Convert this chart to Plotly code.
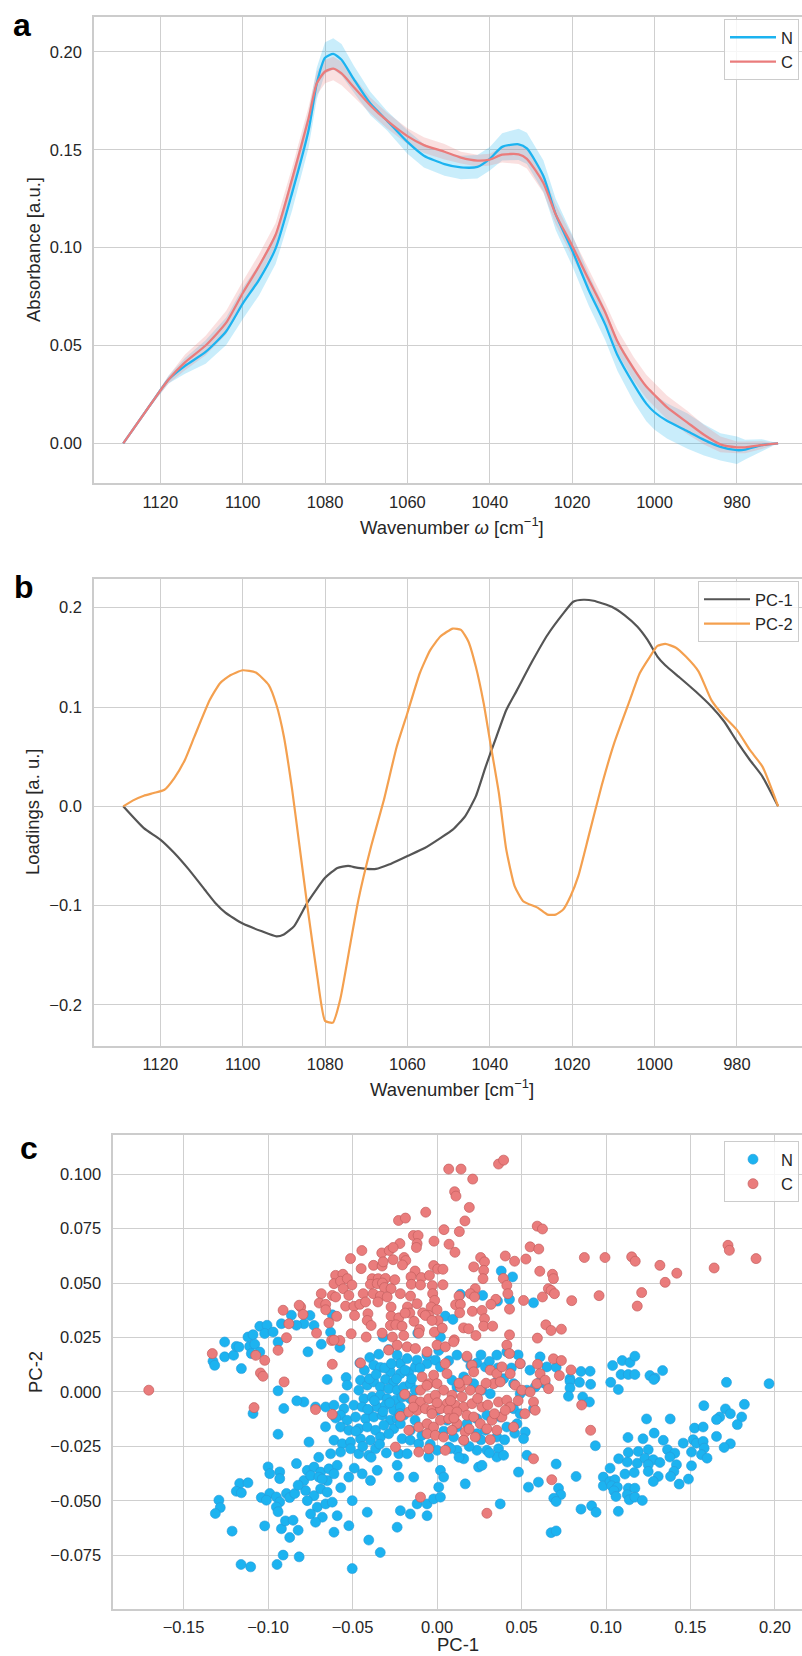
import plotly.graph_objects as go

# ---------------- Panel a: mean absorbance spectra with spread ----------------
WN_A = [1129, 1122, 1118, 1114, 1109, 1104, 1100, 1096, 1092, 1088, 1084, 1082, 1080, 1078,
        1076, 1073, 1069, 1065, 1060, 1056, 1051, 1047, 1043, 1040, 1037, 1033, 1031, 1027,
        1024, 1020, 1016, 1012, 1009, 1005, 1002, 1000, 997, 992, 988, 984, 980, 978, 974, 970]
N_MEAN = [0, 0.021, 0.0326, 0.0396, 0.0467, 0.0573, 0.0714, 0.0837, 0.0996, 0.128, 0.160, 0.184,
          0.197, 0.199, 0.196, 0.186, 0.1736, 0.165, 0.154, 0.147, 0.1427, 0.141, 0.1413, 0.1454,
          0.1515, 0.1528, 0.1507, 0.1366, 0.117, 0.0987, 0.0784, 0.0608, 0.045, 0.030, 0.0203,
          0.0159, 0.0115, 0.0062, 0.0018, -0.0018, -0.0035, -0.0032, -0.0009, 0]
N_SD = [0, 0.001, 0.002, 0.004, 0.006, 0.007, 0.008, 0.008, 0.008, 0.009, 0.009, 0.008, 0.008,
        0.008, 0.008, 0.007, 0.006, 0.005, 0.006, 0.006, 0.006, 0.006, 0.006, 0.006, 0.007, 0.008,
        0.008, 0.008, 0.008, 0.008, 0.008, 0.008, 0.008, 0.009, 0.009, 0.009, 0.009, 0.009, 0.008,
        0.007, 0.007, 0.005, 0.003, 0]
C_MEAN = [0, 0.021, 0.0326, 0.0414, 0.050, 0.0617, 0.0767, 0.0907, 0.1066, 0.135, 0.166, 0.184,
          0.190, 0.1915, 0.189, 0.182, 0.1727, 0.165, 0.157, 0.1524, 0.149, 0.146, 0.1445, 0.145,
          0.1475, 0.1477, 0.1454, 0.133, 0.117, 0.101, 0.0837, 0.067, 0.052, 0.0379, 0.029, 0.0247,
          0.0185, 0.0106, 0.0044, -0.0005, -0.002, -0.002, -0.0009, 0]
C_SD = [0, 0.001, 0.002, 0.004, 0.005, 0.006, 0.006, 0.006, 0.006, 0.006, 0.006, 0.006, 0.006,
        0.006, 0.006, 0.005, 0.004, 0.004, 0.004, 0.004, 0.004, 0.003, 0.003, 0.003, 0.004, 0.005,
        0.005, 0.005, 0.005, 0.005, 0.005, 0.005, 0.006, 0.006, 0.006, 0.006, 0.006, 0.006, 0.005,
        0.004, 0.003, 0.003, 0.002, 0]

# ---------------- Panel b: PCA loadings ----------------
PC1_WN = [1129, 1124, 1120, 1116.6, 1113, 1109.2, 1106.7, 1104.2, 1100, 1095.5, 1091.8, 1090,
          1087.5, 1084.3, 1080, 1077, 1074.4, 1072, 1067.6, 1064.5, 1060, 1055.8, 1052, 1049, 1046,
          1043.4, 1041, 1038.4, 1036, 1033.4, 1029.7, 1026, 1022.2, 1019.75, 1017.3, 1014.8,
          1010.4, 1007.3, 1004.2, 1001.7, 999.3, 997.4, 993.7, 990, 986.2, 983.1, 980, 976.9,
          973.8, 970]
PC1_LOAD = [0, -0.022, -0.0335, -0.047, -0.064, -0.084, -0.097, -0.107, -0.118, -0.1256, -0.131,
            -0.129, -0.1206, -0.097, -0.072, -0.062, -0.060, -0.062, -0.063, -0.0586, -0.050,
            -0.042, -0.032, -0.0235, -0.010, 0.010, 0.040, 0.070, 0.097, 0.117, 0.146, 0.1725,
            0.194, 0.206, 0.208, 0.207, 0.201, 0.1926, 0.181, 0.1675, 0.1508, 0.142, 0.129,
            0.1156, 0.1005, 0.0854, 0.0653, 0.0469, 0.030, 0]
PC2_WN = [1129, 1126.6, 1124, 1121.6, 1119, 1116.6, 1114, 1111.7, 1108, 1105.5, 1103, 1100,
          1096.8, 1093.7, 1091.8, 1090, 1088, 1086.2, 1084.3, 1081.9, 1080, 1078.1, 1076.3,
          1073.8, 1071.9, 1068.8, 1065.7, 1062.6, 1060, 1057, 1054.5, 1052, 1049, 1047, 1045.2,
          1043.4, 1041.5, 1040, 1037.8, 1036, 1034, 1031.9, 1028.4, 1026, 1024, 1022.2, 1020.4,
          1018.5, 1016, 1012.9, 1009.8, 1006, 1003.6, 1001.1, 999.3, 997.4, 994.9, 992.4, 989.3,
          986.2, 983.1, 980, 976.9, 973.8, 970]
PC2_LOAD = [0, 0.006, 0.0107, 0.0134, 0.0167, 0.0285, 0.047, 0.0704, 0.107, 0.124, 0.132, 0.137,
            0.1347, 0.1223, 0.102, 0.0704, 0.017, -0.040, -0.1005, -0.171, -0.216, -0.2178,
            -0.194, -0.137, -0.094, -0.040, 0.0067, 0.060, 0.094, 0.134, 0.157, 0.171, 0.179,
            0.1776, 0.166, 0.1407, 0.104, 0.067, 0.0134, -0.0436, -0.080, -0.0955, -0.102,
            -0.109, -0.109, -0.104, -0.0905, -0.070, -0.030, 0.020, 0.0637, 0.107, 0.134, 0.1508,
            0.1615, 0.1635, 0.160, 0.1508, 0.1357, 0.107, 0.0905, 0.077, 0.057, 0.040, 0]

# ---------------- Panel c: PCA scores (PC-1, PC-2) ----------------
N_SCORES = [
    (0.0380, 0.0555), (0.0447, 0.0528), (0.0138, 0.0448), (0.0270, 0.0443), (0.0358, 0.0417),
    (0.0429, 0.0425), (0.0571, 0.0409), (0.0049, 0.0348), (0.0094, 0.0333), (-0.0788, 0.0313),
    (-0.0752, 0.0351), (-0.0728, 0.0305), (-0.0620, 0.0354), (-0.0630, 0.0274), (-0.0319, 0.0252),
    (-0.0114, 0.0270), (0.0020, 0.0252),
    (-0.0764, 0.0184), (-0.0685, 0.0219), (-0.0575, 0.0204), (-0.0650, 0.0057), (-0.0538, 0.0066),
    (-0.0532, 0.0031), (-0.0457, 0.0133), (-0.0398, 0.0158), (-0.0345, 0.0173), (-0.0374, 0.0123),
    (-0.0335, 0.0112), (-0.0286, 0.0195), (-0.0236, 0.0169), (-0.0217, 0.0130), (-0.0177, 0.0153),
    (-0.0276, 0.0092), (-0.0305, 0.0057), (-0.0256, 0.0046), (-0.0217, 0.0084), (-0.0167, 0.0092),
    (-0.0128, 0.0115), (-0.0118, 0.0146), (-0.0059, 0.0130), (-0.0010, 0.0146), (0.0020, 0.0115),
    (0.0069, 0.0143), (0.0118, 0.0169), (0.0177, 0.0158), (0.0236, 0.0133), (0.0286, 0.0115),
    (0.0354, 0.0169), (0.0413, 0.0184), (0.0492, 0.0130), (0.0610, 0.0161), (0.0650, 0.0115),
    (-0.0453, 0.0054), (-0.0413, 0.0031), (-0.0374, 0.0046), (-0.0335, 0.0023), (-0.0286, 0.0015),
    (-0.0236, 0.0008), (-0.0197, 0.0023), (-0.0158, 0.0038), (-0.0128, 0.0008), (-0.0463, 0.0008),
    (-0.0433, -0.0031), (-0.0384, -0.0023), (-0.0335, -0.0015), (-0.0295, -0.0031),
    (-0.0246, -0.0038), (-0.0207, -0.0023), (-0.0158, -0.0031), (0.0089, 0.0054), (0.0118, 0.0023),
    (0.0158, 0.0069), (0.0217, 0.0038), (0.0266, 0.0008), (0.0315, -0.0008), (0.0354, 0.0046),
    (0.0394, 0.0061), (0.0453, 0.0038), (0.0492, -0.0008), (0.0532, 0.0008), (0.0581, 0.0023),
    (0.0640, 0.0038), (-0.0719, -0.0069), (-0.0659, -0.0069), (-0.0610, -0.0061),
    (-0.0551, -0.0077), (-0.0492, -0.0061), (-0.0443, -0.0069), (-0.0404, -0.0084),
    (-0.0354, -0.0069), (-0.0305, -0.0061), (-0.0256, -0.0084), (-0.0217, -0.0069),
    (-0.0788, -0.0046), (-0.0571, -0.0107), (-0.0532, -0.0130), (-0.0482, -0.0115),
    (-0.0423, -0.0123), (-0.0374, -0.0115), (-0.0325, -0.0107), (-0.0276, -0.0130),
    (-0.0236, -0.0123), (-0.0197, -0.0107), (0.0000, -0.0084), (0.0059, -0.0130), (0.0118, -0.0161),
    (0.0177, -0.0146), (0.0236, -0.0123), (0.0295, -0.0107), (0.0374, -0.0115), (0.0453, -0.0077),
    (0.0492, -0.0100), (0.0571, -0.0077), (-0.0571, -0.0161), (-0.0522, -0.0176),
    (-0.0463, -0.0169), (-0.0413, -0.0161), (-0.0364, -0.0176), (-0.0315, -0.0153),
    (-0.0256, -0.0169), (-0.0217, -0.0146), (-0.0158, -0.0176), (0.0098, -0.0207),
    (0.0158, -0.0222), (0.0236, -0.0192), (0.0286, -0.0176), (0.0354, -0.0207), (0.0413, -0.0161),
    (0.0473, -0.0146), (0.0522, -0.0184), (0.0512, -0.0215), (-0.0610, -0.0222),
    (-0.0561, -0.0238), (-0.0512, -0.0230), (-0.0453, -0.0215), (-0.0394, -0.0222),
    (-0.0335, -0.0207), (-0.0286, -0.0192), (-0.0207, -0.0215), (-0.0158, -0.0222),
    (-0.0108, -0.0238), (-0.0630, -0.0284), (-0.0571, -0.0276), (-0.0512, -0.0261),
    (-0.0463, -0.0284), (-0.0404, -0.0291), (-0.0364, -0.0261), (-0.0226, -0.0284),
    (-0.0177, -0.0284), (-0.0049, -0.0299), (0.0000, -0.0268), (0.0069, -0.0253), (0.0118, -0.0268),
    (0.0158, -0.0307), (0.0236, -0.0268), (0.0295, -0.0268), (0.0364, -0.0261), (0.0354, -0.0299),
    (0.0394, -0.0291), (-0.0758, -0.0230), (0.0532, -0.0291), (-0.0768, -0.0360),
    (-0.0728, -0.0345), (-0.0689, -0.0368), (-0.0640, -0.0353), (-0.0591, -0.0337),
    (-0.0788, -0.0407), (-0.0748, -0.0384), (-0.0699, -0.0391), (-0.0650, -0.0407),
    (-0.0610, -0.0376), (-0.0522, -0.0391), (-0.0443, -0.0376), (-0.0394, -0.0407),
    (-0.0354, -0.0360), (-0.0236, -0.0337), (-0.0226, -0.0391), (-0.0138, -0.0391),
    (0.0020, -0.0360), (0.0039, -0.0391), (0.0010, -0.0437), (0.0167, -0.0422), (0.0246, -0.0345),
    (0.0266, -0.0337), (0.0482, -0.0368), (0.0541, -0.0437), (0.0600, -0.0414), (-0.0778, -0.0453),
    (-0.0728, -0.0476), (-0.0689, -0.0445), (-0.0650, -0.0460), (-0.0768, -0.0499),
    (-0.0709, -0.0529), (-0.0659, -0.0514), (-0.0620, -0.0506), (-0.0502, -0.0499),
    (-0.0748, -0.0560), (-0.0679, -0.0575), (-0.0591, -0.0568), (-0.0522, -0.0614),
    (-0.0413, -0.0552), (-0.0217, -0.0545), (-0.0158, -0.0560), (-0.0118, -0.0514),
    (-0.0059, -0.0514), (-0.0059, -0.0568), (-0.0020, -0.0491), (0.0020, -0.0483),
    (0.0374, -0.0514), (-0.0719, -0.0598), (-0.0610, -0.0644), (-0.0236, -0.0621),
    (-0.0404, -0.0680), (-0.0502, -0.0811), (-0.0336, -0.0737),
    (-0.043, 0.010), (-0.040, 0.006), (-0.036, 0.008), (-0.031, 0.011), (-0.027, 0.013),
    (-0.024, 0.006), (-0.019, 0.010), (-0.015, 0.006), (-0.041, -0.008), (-0.037, -0.004),
    (-0.032, -0.009), (-0.028, -0.005), (-0.022, -0.010), (-0.018, -0.002), (-0.013, -0.013),
    (-0.009, -0.020), (-0.004, -0.024), (0.004, -0.018), (0.008, -0.026), (0.013, -0.030),
    (0.019, -0.025), (0.026, -0.022), (0.031, -0.028), (0.040, -0.022), (0.046, -0.019),
    (0.020, 0.012), (0.026, 0.017), (0.031, 0.014), (0.036, 0.011), (0.044, 0.011), (0.048, 0.017),
    (0.055, 0.010), (0.060, 0.004), (-0.048, -0.018), (-0.044, -0.025), (-0.039, -0.030),
    (-0.034, -0.024), (-0.030, -0.028), (-0.055, -0.003), (-0.060, -0.012), (-0.066, -0.016),
    (-0.070, -0.030), (-0.068, -0.040), (-0.057, -0.044), (-0.049, -0.035), (-0.006, 0.017),
    (0.001, 0.019), (-0.010, 0.011),
    (-0.1257, 0.0229), (-0.1326, 0.0141), (-0.1316, 0.0122), (-0.1257, 0.0161), (-0.1204, 0.0168),
    (-0.1188, 0.0209), (-0.1172, 0.0206), (-0.1158, 0.0107), (-0.1119, 0.0252), (-0.1089, 0.0263),
    (-0.1049, 0.0301), (-0.1006, 0.0306), (-0.1109, 0.0209), (-0.1079, 0.0219), (-0.1099, 0.0176),
    (-0.1049, 0.0183), (-0.1020, 0.0268), (-0.0970, 0.0275), (-0.0941, 0.0229), (-0.0921, 0.0313),
    (-0.0862, 0.0352), (-0.0832, 0.0306), (-0.0941, 0.0005), (-0.1089, -0.0099),
    (-0.0907, -0.0076), (-0.0830, -0.0041), (-0.0941, -0.0194), (-0.1000, -0.0344),
    (-0.0990, -0.0375), (-0.0931, -0.0367), (-0.0931, -0.0398), (-0.0832, -0.0329),
    (-0.1168, -0.0420), (-0.1119, -0.0417), (-0.1188, -0.0456), (-0.1158, -0.0463),
    (-0.1040, -0.0485), (-0.0990, -0.0466), (-0.1010, -0.0497), (-0.0951, -0.0482),
    (-0.0931, -0.0505), (-0.0891, -0.0466), (-0.0872, -0.0485), (-0.0842, -0.0466),
    (-0.0822, -0.0428), (-0.1291, -0.0497), (-0.1283, -0.0531), (-0.1312, -0.0558),
    (-0.0951, -0.0528), (-0.0941, -0.0550), (-0.1213, -0.0639), (-0.1020, -0.0615),
    (-0.0921, -0.0628), (-0.0897, -0.0592), (-0.0852, -0.0589), (-0.0872, -0.0668),
    (-0.0822, -0.0635), (-0.1160, -0.0792), (-0.1103, -0.0803), (-0.0947, -0.0792),
    (-0.0911, -0.0749), (-0.0816, -0.0757),
    (0.0705, 0.0113), (0.0852, 0.0094), (0.0906, 0.0095), (0.1039, 0.0121), (0.1096, 0.0144),
    (0.1142, 0.0135), (0.1171, 0.0164), (0.1089, 0.0080), (0.1132, 0.0080), (0.1171, 0.0080),
    (0.1260, 0.0075), (0.1290, 0.0064), (0.1335, 0.0098), (0.0787, 0.0060),
    (0.0787, 0.0049), (0.0843, 0.0044), (0.0909, 0.0035), (0.1028, 0.0044), (0.1073, 0.0011),
    (0.1283, 0.0057), (0.1713, 0.0044), (0.1965, 0.0038), (0.0787, 0.0018), (0.0778, -0.0020),
    (0.0862, -0.0023), (0.0902, -0.0046), (0.0937, -0.0247), (0.0705, -0.0331), (0.0823, -0.0388),
    (0.0719, -0.0442), (0.0732, -0.0472), (0.0691, -0.0488), (0.0705, -0.0503), (0.0852, -0.0538),
    (0.0915, -0.0523), (0.0941, -0.0552), (0.1073, -0.0548), (0.0675, -0.0646), (0.0705, -0.0638),
    (0.1240, -0.0124), (0.1380, -0.0124), (0.1130, -0.0209), (0.1219, -0.0215), (0.1285, -0.0189),
    (0.1339, -0.0222), (0.1579, -0.0063), (0.1819, -0.0057), (0.1707, -0.0078), (0.1736, -0.0100),
    (0.1673, -0.0115), (0.1654, -0.0127), (0.1803, -0.0115), (0.1777, -0.0150), (0.1524, -0.0166),
    (0.1575, -0.0161), (0.1654, -0.0204), (0.1736, -0.0238), (0.1699, -0.0255), (0.1457, -0.0235),
    (0.1516, -0.0219), (0.1535, -0.0235), (0.1575, -0.0227), (0.1506, -0.0276), (0.1581, -0.0258),
    (0.1565, -0.0288), (0.1598, -0.0304), (0.1075, -0.0307), (0.1132, -0.0278), (0.1191, -0.0273),
    (0.1250, -0.0265), (0.1126, -0.0322), (0.1185, -0.0327), (0.1230, -0.0304), (0.1280, -0.0311),
    (0.1319, -0.0324), (0.1364, -0.0265), (0.1407, -0.0281), (0.1378, -0.0299), (0.1250, -0.0334),
    (0.1417, -0.0334), (0.1024, -0.0350), (0.1112, -0.0377), (0.1167, -0.0370), (0.1250, -0.0365),
    (0.1309, -0.0388), (0.1280, -0.0411), (0.1402, -0.0365), (0.1382, -0.0388), (0.1506, -0.0339),
    (0.1488, -0.0400), (0.1433, -0.0423), (0.0984, -0.0391), (0.0984, -0.0431), (0.1024, -0.0411),
    (0.1053, -0.0403), (0.1033, -0.0431), (0.1067, -0.0437), (0.1047, -0.0454), (0.1059, -0.0480),
    (0.1132, -0.0442), (0.1171, -0.0442), (0.1126, -0.0472), (0.1138, -0.0495), (0.1171, -0.0483),
    (0.1215, -0.0498),
]

C_SCORES = [
    (0.0069, 0.1023), (0.0142, 0.1023), (0.0211, 0.0977), (0.0364, 0.1046), (0.0394, 0.1064),
    (0.0104, 0.0919), (0.0112, 0.0899), (0.0191, 0.0847), (-0.0067, 0.0825), (-0.0228, 0.0787),
    (-0.0187, 0.0798), (0.0165, 0.0785), (0.0041, 0.0745), (0.0132, 0.0736), (-0.0140, 0.0718),
    (-0.0112, 0.0718), (-0.0118, 0.0681), (-0.0018, 0.0692), (-0.0220, 0.0681), (-0.0122, 0.0663),
    (0.0071, 0.0678), (0.0106, 0.0641), (-0.0445, 0.0649), (-0.0327, 0.0638), (-0.0283, 0.0649),
    (-0.0260, 0.0663), (-0.0512, 0.0612), (-0.0260, 0.0607), (-0.0195, 0.0617), (-0.0185, 0.0603),
    (-0.0205, 0.0583), (-0.0376, 0.0581), (-0.0325, 0.0578), (-0.0319, 0.0597), (-0.0449, 0.0566),
    (0.0258, 0.0617), (0.0281, 0.0597), (0.0217, 0.0574), (0.0276, 0.0558), (0.0272, 0.0520),
    (0.0404, 0.0624), (0.0459, 0.0600), (0.0526, 0.0610), (0.0551, 0.0666), (0.0602, 0.0656),
    (0.0593, 0.0761), (0.0624, 0.0748), (0.0608, 0.0554), (-0.0020, 0.0580), (0.0004, 0.0564),
    (0.0035, 0.0563), (-0.0130, 0.0555), (-0.0154, 0.0528), (-0.0093, 0.0525), (-0.0045, 0.0535),
    (-0.0600, 0.0535), (-0.0557, 0.0540), (-0.0610, 0.0497), (-0.0571, 0.0508), (-0.0531, 0.0520),
    (-0.0504, 0.0491), (-0.0384, 0.0520), (-0.0348, 0.0520), (-0.0305, 0.0521), (-0.0250, 0.0515),
    (-0.0394, 0.0494), (-0.0354, 0.0497), (-0.0323, 0.0500), (-0.0311, 0.0479), (-0.0272, 0.0474),
    (-0.0152, 0.0494), (-0.0098, 0.0491), (-0.0028, 0.0488), (0.0035, 0.0492), (-0.0685, 0.0451),
    (-0.0620, 0.0443), (-0.0555, 0.0474), (-0.0522, 0.0443), (-0.0437, 0.0451), (-0.0378, 0.0451),
    (-0.0335, 0.0440), (-0.0295, 0.0436), (-0.0217, 0.0451), (-0.0026, 0.0451), (-0.0014, 0.0420),
    (-0.0157, 0.0440), (0.0226, 0.0474), (0.0197, 0.0451), (0.0222, 0.0436), (0.0130, 0.0440),
    (0.0110, 0.0400), (0.0138, 0.0402), (0.0392, 0.0521), (0.0413, 0.0489), (0.0419, 0.0451),
    (0.0512, 0.0420), (0.0624, 0.0436), (0.0659, 0.0474), (0.0348, 0.0425), (0.0319, 0.0402),
    (-0.0697, 0.0408), (-0.0659, 0.0402), (-0.0600, 0.0436), (-0.0541, 0.0394), (-0.0492, 0.0393),
    (-0.0457, 0.0402), (-0.0423, 0.0413), (-0.0409, 0.0359), (-0.0350, 0.0413), (-0.0272, 0.0390),
    (-0.0175, 0.0390), (-0.0161, 0.0362), (-0.0118, 0.0405), (-0.0085, 0.0363), (-0.0035, 0.0390),
    (0.0000, 0.0377), (-0.0049, 0.0351), (0.0006, 0.0328), (0.0134, 0.0363), (0.0209, 0.0370),
    (0.0266, 0.0374), (0.0281, 0.0336), (0.0276, 0.0302), (0.0329, 0.0302), (0.0429, 0.0380),
    (-0.0807, 0.0390), (-0.0793, 0.0356), (-0.0659, 0.0377), (-0.0594, 0.0347), (-0.0488, 0.0351),
    (-0.0413, 0.0328), (-0.0272, 0.0348), (-0.0226, 0.0340), (-0.0189, 0.0362), (-0.0136, 0.0324),
    (-0.0069, 0.0351), (-0.0030, 0.0328), (-0.0640, 0.0317), (-0.0508, 0.0267), (-0.0390, 0.0305),
    (-0.0325, 0.0270), (-0.0276, 0.0305), (-0.0244, 0.0308), (-0.0207, 0.0302), (-0.0104, 0.0287),
    (-0.0108, 0.0270), (-0.0016, 0.0275), (0.0031, 0.0293), (0.0157, 0.0294), (0.0187, 0.0290),
    (0.0230, 0.0259), (0.0102, 0.0239), (0.0429, 0.0262), (0.0594, 0.0247), (0.0644, 0.0308),
    (-0.0713, 0.0270), (-0.0624, 0.0236), (-0.0575, 0.0236), (-0.0419, 0.0252), (-0.0264, 0.0252),
    (-0.0197, 0.0259),
    (-0.0620, 0.0127), (-0.0453, 0.0133), (-0.0719, -0.0081), (-0.0620, -0.0103), (-0.0286, 0.0192),
    (-0.0236, 0.0215), (-0.0177, 0.0207), (-0.0128, 0.0199), (-0.0059, 0.0184), (0.0000, 0.0215),
    (0.0049, 0.0207), (0.0098, 0.0230), (-0.0610, 0.0238), (0.0413, 0.0215), (0.0429, 0.0176),
    (0.0492, 0.0130), (0.0595, 0.0127), (0.0610, 0.0084), (0.0177, 0.0164), (0.0207, 0.0123),
    (0.0049, 0.0130), (0.0059, 0.0084), (-0.0020, 0.0077), (-0.0089, 0.0069), (-0.0098, 0.0008),
    (-0.0049, 0.0038), (0.0000, 0.0038), (0.0039, 0.0008), (0.0089, -0.0015), (0.0138, 0.0023),
    (0.0177, 0.0054), (0.0217, 0.0092), (0.0256, 0.0008), (0.0197, 0.0008), (0.0148, -0.0023),
    (0.0315, 0.0100), (0.0354, 0.0084), (0.0384, 0.0115), (0.0433, 0.0084), (0.0335, 0.0038),
    (0.0374, 0.0046), (0.0463, 0.0031), (0.0502, 0.0008), (0.0551, 0.0000), (0.0591, 0.0038),
    (0.0640, 0.0054), (0.0660, 0.0015), (-0.0191, -0.0011), (-0.0138, -0.0038), (-0.0098, -0.0046),
    (-0.0049, -0.0031), (-0.0010, -0.0015), (0.0059, -0.0054), (0.0108, -0.0061), (0.0158, -0.0069),
    (0.0207, -0.0054), (0.0266, -0.0069), (0.0364, -0.0046), (0.0413, -0.0038), (0.0433, -0.0069),
    (0.0571, -0.0046), (-0.0217, -0.0112), (-0.0167, -0.0092), (-0.0118, -0.0084),
    (-0.0069, -0.0077), (-0.0030, -0.0084), (0.0020, -0.0077), (0.0069, -0.0084), (0.0118, -0.0092),
    (0.0177, -0.0107), (0.0217, -0.0115), (0.0256, -0.0146), (0.0325, -0.0130), (0.0384, -0.0115),
    (0.0404, -0.0084), (-0.0167, -0.0176), (-0.0108, -0.0161), (-0.0059, -0.0146),
    (-0.0020, -0.0161), (0.0020, -0.0130), (0.0069, -0.0123), (0.0118, -0.0146), (0.0167, -0.0184),
    (0.0226, -0.0207), (0.0295, -0.0169), (0.0354, -0.0176), (0.0453, -0.0161), (-0.0059, -0.0192),
    (-0.0010, -0.0199), (0.0039, -0.0207), (0.0089, -0.0176), (0.0158, -0.0222), (0.0315, -0.0219),
    (-0.0246, -0.0253), (-0.0108, -0.0276), (-0.0049, -0.0261), (0.0049, -0.0268),
    (0.0571, -0.0307), (0.0581, -0.0084), (-0.0098, -0.0483), (0.0295, -0.0557),
    (-0.003, -0.010), (0.008, -0.004), (0.013, 0.004), (0.024, -0.003), (0.030, -0.006),
    (0.029, 0.004), (-0.014, -0.007), (0.010, -0.012), (0.000, -0.005), (0.019, -0.017),
    (0.034, -0.010), (0.048, -0.004), (0.052, -0.010), (-0.006, 0.003),
    (-0.1706, 0.0008), (-0.1330, 0.0176), (-0.1073, 0.0168), (-0.1020, 0.0145), (-0.1045, 0.0087),
    (-0.1030, 0.0072), (-0.1083, -0.0072), (-0.0911, 0.0375), (-0.0877, 0.0313), (-0.0891, 0.0249),
    (-0.0941, 0.0191), (-0.0905, 0.0046), (-0.0816, 0.0398),
    (0.0683, 0.0540), (0.0689, 0.0520), (0.0675, 0.0466), (0.0695, 0.0451), (0.0797, 0.0419),
    (0.0872, 0.0617), (0.0994, 0.0617), (0.1152, 0.0620), (0.1173, 0.0600), (0.1319, 0.0581),
    (0.1419, 0.0545), (0.1350, 0.0503), (0.1211, 0.0456), (0.1185, 0.0394), (0.0959, 0.0442),
    (0.1640, 0.0569), (0.1722, 0.0673), (0.1730, 0.0650), (0.1888, 0.0612), (0.0675, 0.0282),
    (0.0736, 0.0288), (0.0689, 0.0152), (0.0736, 0.0144), (0.0793, 0.0101), (0.0724, 0.0075),
    (0.0856, -0.0060), (0.0909, -0.0176), (0.0679, -0.0403),
]

N_PC1 = [p[0] for p in N_SCORES]
N_PC2 = [p[1] for p in N_SCORES]
C_PC1 = [p[0] for p in C_SCORES]
C_PC2 = [p[1] for p in C_SCORES]

XTICKS_WN = [1120, 1100, 1080, 1060, 1040, 1020, 1000, 980]
YTICKS_A = [0.0, 0.05, 0.10, 0.15, 0.20]
YTICK_A_TXT = ["0.00", "0.05", "0.10", "0.15", "0.20"]
YTICKS_B = [-0.2, -0.1, 0.0, 0.1, 0.2]
YTICK_B_TXT = ["\u22120.2", "\u22120.1", "0.0", "0.1", "0.2"]
XTICKS_C = [-0.15, -0.10, -0.05, 0.0, 0.05, 0.10, 0.15, 0.20]
XTICK_C_TXT = ["\u22120.15", "\u22120.10", "\u22120.05", "0.00", "0.05", "0.10", "0.15", "0.20"]
YTICKS_C = [-0.075, -0.05, -0.025, 0.0, 0.025, 0.05, 0.075, 0.1]
YTICK_C_TXT = ["\u22120.075", "\u22120.050", "\u22120.025", "0.000", "0.025", "0.050", "0.075", "0.100"]

# ---------------- colours / style ----------------
BLUE = "#1CB3F0"
RED = "#EA7C7C"
GRAY = "#555555"
ORANGE = "#F4A04F"
GRID = "#cfcfcf"
TXT = "#262626"
FONT = "Liberation Sans, Arial, sans-serif"
W, H = 802, 1656


def px(x):
    return x / W


def py(y):
    return 1 - y / H


fig = go.Figure()

# panel a bands and lines
n_up = [m + s for m, s in zip(N_MEAN, N_SD)]
n_lo = [m - s for m, s in zip(N_MEAN, N_SD)]
c_up = [m + s for m, s in zip(C_MEAN, C_SD)]
c_lo = [m - s for m, s in zip(C_MEAN, C_SD)]
fig.add_trace(go.Scatter(x=WN_A + WN_A[::-1], y=n_up + n_lo[::-1], fill="toself",
                         fillcolor="rgba(28,179,240,0.24)", line=dict(width=0),
                         showlegend=False, hoverinfo="skip", xaxis="x", yaxis="y"))
fig.add_trace(go.Scatter(x=WN_A + WN_A[::-1], y=c_up + c_lo[::-1], fill="toself",
                         fillcolor="rgba(234,124,124,0.24)", line=dict(width=0),
                         showlegend=False, hoverinfo="skip", xaxis="x", yaxis="y"))
fig.add_trace(go.Scatter(x=WN_A, y=N_MEAN, mode="lines", name="N",
                         line=dict(color=BLUE, width=2.3, shape="spline", smoothing=0.6),
                         xaxis="x", yaxis="y", legend="legend"))
fig.add_trace(go.Scatter(x=WN_A, y=C_MEAN, mode="lines", name="C",
                         line=dict(color=RED, width=2.3, shape="spline", smoothing=0.6),
                         xaxis="x", yaxis="y", legend="legend"))

# panel b
fig.add_trace(go.Scatter(x=PC1_WN, y=PC1_LOAD, mode="lines", name="PC-1",
                         line=dict(color=GRAY, width=2.2, shape="spline", smoothing=0.5),
                         xaxis="x2", yaxis="y2", legend="legend2"))
fig.add_trace(go.Scatter(x=PC2_WN, y=PC2_LOAD, mode="lines", name="PC-2",
                         line=dict(color=ORANGE, width=2.2, shape="spline", smoothing=0.5),
                         xaxis="x2", yaxis="y2", legend="legend2"))

# panel c
fig.add_trace(go.Scatter(x=N_PC1, y=N_PC2, mode="markers", name="N",
                         marker=dict(color=BLUE, size=10, line=dict(color="#2A9AD8", width=0.6)),
                         xaxis="x3", yaxis="y3", legend="legend3"))
fig.add_trace(go.Scatter(x=C_PC1, y=C_PC2, mode="markers", name="C",
                         marker=dict(color=RED, size=10, line=dict(color="#C45E5E", width=0.7)),
                         xaxis="x3", yaxis="y3", legend="legend3"))

axis_common = dict(showgrid=True, gridcolor=GRID, gridwidth=1.3, zeroline=False,
                   showline=True, linecolor="#cccccc", linewidth=1.6,
                   ticks="outside", tickcolor="rgba(0,0,0,0)",
                   tickfont=dict(family=FONT, size=16.5, color=TXT), fixedrange=True)
xcommon = dict(axis_common, ticklen=3)
ycommon = dict(axis_common, ticklen=7)

dom_a_y = [py(483.3), py(16.5)]
dom_b_y = [py(1045.7), py(578.7)]
dom_c_y = [py(1608.7), py(1135.3)]

legend_style = dict(xanchor="left", yanchor="top", bgcolor="rgba(255,255,255,0.8)",
                    bordercolor="#cccccc", borderwidth=1, itemwidth=46,
                    font=dict(family=FONT, size=16.5, color=TXT))

fig.update_layout(
    width=W, height=H, margin=dict(l=0, r=0, t=0, b=0),
    paper_bgcolor="white", plot_bgcolor="white",
    font=dict(family=FONT, size=16.5, color=TXT),
    hovermode=False,
    xaxis=dict(xcommon, domain=[px(94), 1.0], range=[1136.1, 964.2], tickvals=XTICKS_WN,
               mirror=True, anchor="y"),
    yaxis=dict(ycommon, domain=dom_a_y, range=[-0.0204, 0.2181], tickvals=YTICKS_A,
               ticktext=YTICK_A_TXT, anchor="x"),
    xaxis2=dict(xcommon, domain=[px(94), 1.0], range=[1136.1, 964.2], tickvals=XTICKS_WN,
                mirror=True, anchor="y2"),
    yaxis2=dict(ycommon, domain=dom_b_y, range=[-0.241, 0.2292], tickvals=YTICKS_B,
                ticktext=YTICK_B_TXT, anchor="x2"),
    xaxis3=dict(xcommon, domain=[px(113.3), 1.0], range=[-0.1916, 0.216], tickvals=XTICKS_C,
                ticktext=XTICK_C_TXT, mirror=True, anchor="y3"),
    yaxis3=dict(ycommon, domain=dom_c_y, range=[-0.0995, 0.1178], tickvals=YTICKS_C,
                ticktext=YTICK_C_TXT, anchor="x3"),
    legend=dict(legend_style, x=px(724), y=py(19)),
    legend2=dict(legend_style, x=px(698), y=py(581)),
    legend3=dict(legend_style, x=px(724), y=py(1141)),
)

ann = []
for letter, (lx, ly) in {"a": (22, 24.5), "b": (24, 587), "c": (29, 1148)}.items():
    ann.append(dict(text=f"<b>{letter}</b>", x=px(lx), y=py(ly), xref="paper", yref="paper",
                    xanchor="center", yanchor="middle", showarrow=False,
                    font=dict(family=FONT, size=32, color="black")))
titles = [
    ("Wavenumber <i>\u03c9</i> [cm<sup>\u22121</sup>]", 452, 526, 0),
    ("Absorbance [a.u.]", 33, 250, -90),
    ("Wavenumber [cm<sup>\u22121</sup>]", 452, 1088, 0),
    ("Loadings [a. u.]", 33, 812, -90),
    ("PC-1", 458, 1644, 0),
    ("PC-2", 35, 1372, -90),
]
for t, tx, ty, ang in titles:
    ann.append(dict(text=t, x=px(tx), y=py(ty), xref="paper", yref="paper",
                    xanchor="center", yanchor="middle", showarrow=False, textangle=ang,
                    font=dict(family=FONT, size=18.5, color=TXT)))
fig.update_layout(annotations=ann)

fig.write_html("out.html", config={"displayModeBar": False},
               post_script="document.body.style.margin='0px';document.body.style.overflow='hidden';")
